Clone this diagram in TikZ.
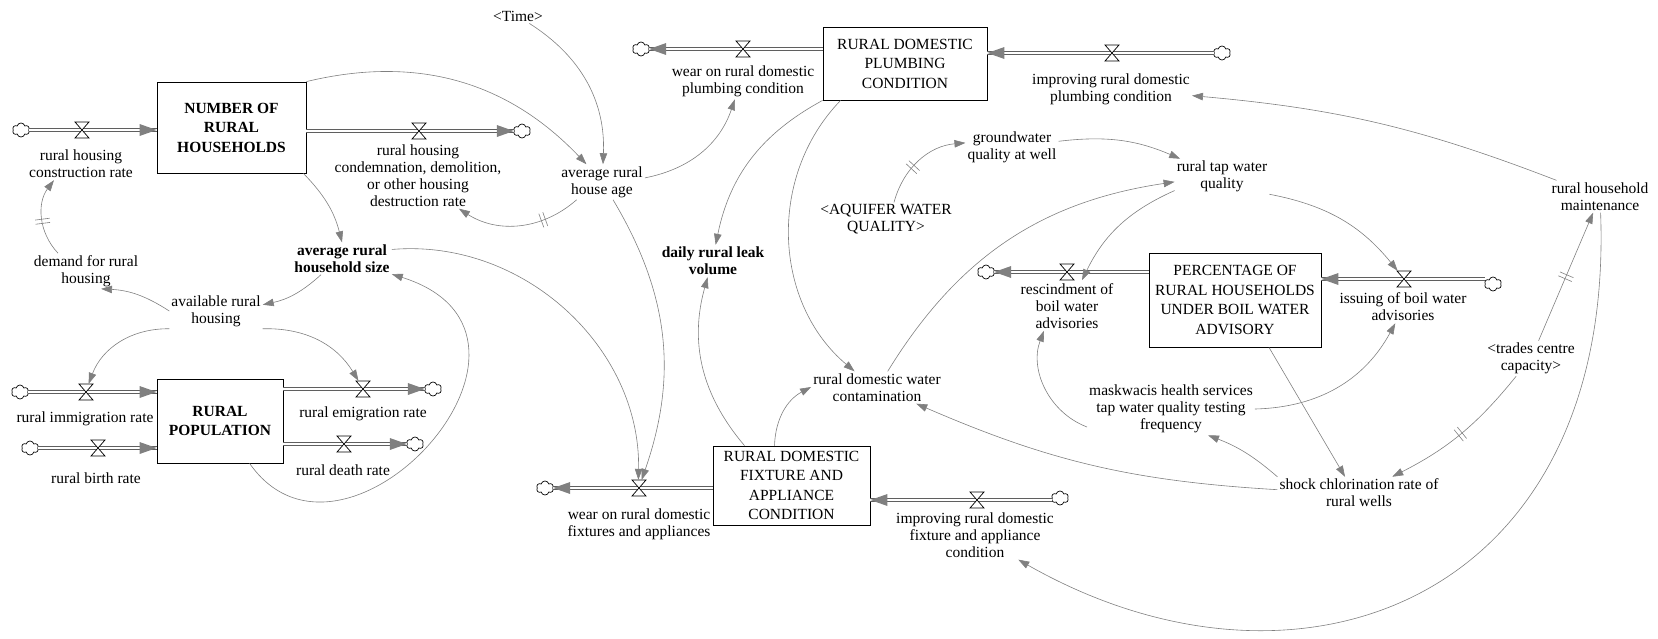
\documentclass[tikz,border=0pt]{standalone}
\usepackage{fontspec}
\setmainfont{Liberation Serif}
\usetikzlibrary{arrows.meta,shapes.symbols}

\definecolor{linkgray}{RGB}{128,128,128}
\definecolor{pipegray}{RGB}{95,95,95}

\tikzset{
  every node/.style={font=\fontsize{15.5}{17}\selectfont},
  stock/.style={draw, line width=.8pt, align=center, inner sep=2pt,
    font=\fontsize{15.5}{19.5}\selectfont},
  heavy stock/.style={stock, font=\fontsize{15.5}{19.5}\selectfont\bfseries},
  aux/.style={align=center, inner sep=2pt},
  heavy aux/.style={aux, font=\fontsize{15.5}{17}\selectfont\bfseries},
  valve/.style={minimum width=14pt, minimum height=16pt, inner sep=0pt},
  sink/.style={cloud, cloud puffs=6, cloud puff arc=150, aspect=1.25, draw,
    line width=.7pt, fill=white, inner sep=0pt, minimum width=17pt, minimum height=14pt},
  pipe/.style={draw=pipegray, line width=.8pt, double=white, double distance=2.4pt},
  link/.style={draw=linkgray, line width=.6pt, -{Triangle[length=11pt,width=7.5pt]}},
  delay/.style={sloped, inner sep=0pt, minimum width=3.6pt, minimum height=14pt},
  pics/hourglass/.style={code={
    \draw[line width=.7pt, fill=white] (-7,8) -- (7,8) -- (-7,-8) -- (7,-8) -- cycle;}},
}

\begin{document}
\begin{tikzpicture}[x=1pt,y=1pt]
  \useasboundingbox (0,0) rectangle (1658,-638);

  % stocks
  \node[heavy stock, minimum width=149pt, minimum height=91pt] (nrh) at (231.5,-127.5) {NUMBER OF\\RURAL\\HOUSEHOLDS};
  \node[heavy stock, minimum width=126pt, minimum height=84pt] (rp) at (220,-421) {RURAL\\POPULATION};
  \node[stock, minimum width=164pt, minimum height=73pt] (plumb) at (905,-63.5) {RURAL DOMESTIC\\PLUMBING\\CONDITION};
  \node[stock, minimum width=157pt, minimum height=79pt] (fixt) at (791.5,-485.5) {RURAL DOMESTIC\\FIXTURE AND\\APPLIANCE\\CONDITION};
  \node[stock, minimum width=172pt, minimum height=94pt] (pct) at (1235,-300) {PERCENTAGE OF\\RURAL HOUSEHOLDS\\UNDER BOIL WATER\\ADVISORY};

  % valves (the hourglasses are drawn later, on top of the pipes)
  \foreach \n/\x/\y in {vHcr/82/130, vDes/419/131, vImm/86/392, vBirth/98/448,
      vEmig/363/389, vDeath/344/444, vWearp/743/49, vImpp/1112/53,
      vResc/1067/272, vIssu/1404/279, vWearf/639/488, vImpf/977/500}
    \node[valve] (\n) at (\x,-\y) {};

  % sources and sinks
  \foreach \n/\x/\y in {cHcr/21/130, cDes/522/131, cImm/20/392, cBirth/30/448,
      cEmig/433/389, cDeath/415/444, cWearp/641/49, cImpp/1222/53,
      cResc/986/272, cIssu/1493/284, cWearf/545/488, cImpf/1060/498}
    \node[sink] (\n) at (\x,-\y) {};

  % pipes
  \draw[pipe] (cHcr.east |- vHcr) -- (nrh.west |- vHcr);
  \draw[pipe] (nrh.east |- vDes) -- (cDes.west |- vDes);
  \draw[pipe] (cImm.east |- vImm) -- (rp.west |- vImm);
  \draw[pipe] (cBirth.east |- vBirth) -- (rp.west |- vBirth);
  \draw[pipe] (rp.east |- vEmig) -- (cEmig.west |- vEmig);
  \draw[pipe] (rp.east |- vDeath) -- (cDeath.west |- vDeath);
  \draw[pipe] (plumb.west |- vWearp) -- (cWearp.east |- vWearp);
  \draw[pipe] (cImpp.west |- vImpp) -- (plumb.east |- vImpp);
  \draw[pipe] (pct.west |- vResc) -- (cResc.east |- vResc);
  \draw[pipe] (cIssu.west |- vIssu) -- (pct.east |- vIssu);
  \draw[pipe] (fixt.west |- vWearf) -- (cWearf.east |- vWearf);
  \draw[pipe] (cImpf.west |- vImpf) -- (fixt.east |- vImpf);

  % pipe heads
  \fill[linkgray] (nrh.west |- vHcr) -- ++(-17,6) -- ++(0,-12) -- cycle;
  \fill[linkgray] (cDes.west |- vDes) -- ++(-17,6) -- ++(0,-12) -- cycle;
  \fill[linkgray] (rp.west |- vImm) -- ++(-17,6) -- ++(0,-12) -- cycle;
  \fill[linkgray] (rp.west |- vBirth) -- ++(-17,6) -- ++(0,-12) -- cycle;
  \fill[linkgray] (cEmig.west |- vEmig) -- ++(-17,6) -- ++(0,-12) -- cycle;
  \fill[linkgray] (cDeath.west |- vDeath) -- ++(-17,6) -- ++(0,-12) -- cycle;
  \fill[linkgray] (cWearp.east |- vWearp) -- ++(17,6) -- ++(0,-12) -- cycle;
  \fill[linkgray] (plumb.east |- vImpp) -- ++(17,6) -- ++(0,-12) -- cycle;
  \fill[linkgray] (cResc.east |- vResc) -- ++(17,6) -- ++(0,-12) -- cycle;
  \fill[linkgray] (pct.east |- vIssu) -- ++(17,6) -- ++(0,-12) -- cycle;
  \fill[linkgray] (cWearf.east |- vWearf) -- ++(17,6) -- ++(0,-12) -- cycle;
  \fill[linkgray] (fixt.east |- vImpf) -- ++(17,6) -- ++(0,-12) -- cycle;

  \foreach \v in {vHcr,vDes,vImm,vBirth,vEmig,vDeath,vWearp,vImpp,vResc,vIssu,vWearf,vImpf}
    \pic at (\v) {hourglass};

  % flow names
  \node[aux] (hcrL) at (81,-164) {rural housing\\construction rate};
  \node[aux] (desL) at (418,-175.5) {rural housing\\condemnation, demolition,\\or other housing\\destruction rate};
  \node[aux] (immL) at (85,-419) {rural immigration rate};
  \node[aux] (birthL) at (96,-478) {rural birth rate};
  \node[aux] (emigL) at (363,-414) {rural emigration rate};
  \node[aux] (deathL) at (343,-470) {rural death rate};
  \node[aux] (wearpL) at (743,-81.5) {wear on rural domestic\\plumbing condition};
  \node[aux] (imppL) at (1111,-89.5) {improving rural domestic\\plumbing condition};
  \node[aux] (rescL) at (1067,-306) {rescindment of\\boil water\\advisories};
  \node[aux] (issuL) at (1403,-307) {issuing of boil water\\advisories};
  \node[aux] (wearfL) at (639,-524.5) {wear on rural domestic\\fixtures and appliances};
  \node[aux] (impfL) at (975,-535) {improving rural domestic\\fixture and appliance\\condition};

  % auxiliaries
  \node[aux] (demand) at (86,-271) {demand for rural\\housing};
  \node[heavy aux] (ahs) at (342,-258.5) {average rural\\household size};
  \node[aux] (avail) at (216,-311) {available rural\\housing};
  \node[aux] (time) at (518,-16) {<Time>};
  \node[aux] (age) at (602,-182) {average rural\\house age};
  \node[aux] (gw) at (1012,-147) {groundwater\\quality at well};
  \node[aux] (aq) at (886,-219.5) {<AQUIFER WATER\\QUALITY>};
  \node[heavy aux] (leak) at (713,-261) {daily rural leak\\volume};
  \node[aux] (tap) at (1222,-176.5) {rural tap water\\quality};
  \node[aux] (maint) at (1600,-196.5) {rural household\\maintenance};
  \node[aux] (trades) at (1531,-358.5) {<trades centre\\capacity>};
  \node[aux] (contam) at (877,-387.5) {rural domestic water\\contamination};
  \node[aux] (mask) at (1171,-409) {maskwacis health services\\tap water quality testing\\frequency};
  \node[aux] (shock) at (1359,-493) {shock chlorination rate of\\rural wells};

  % causal links
  \draw[link] ([xshift=-3pt]nrh.south east) to[bend left=15] (ahs.north);
  \draw[link] (nrh.north east) to[bend left=30] (age);
  \draw[link] (time) to[bend left=30] (age);
  \draw[link] (age) to[bend right=30] (wearpL);
  \draw[link] (age) to[bend left=37] node[delay, pos=.3] (dAge) {} (desL);
  \draw[link] (age) to[bend left=25] (vWearf);
  \draw[link] (ahs) to[bend left=48] (vWearf);
  \draw[link] (ahs) to[bend left=15] (avail);
  \draw[link] (avail.west) to[bend right=15] ([xshift=15pt]demand.south);
  \draw[link] ([xshift=-28pt]demand.north) to[bend left=40] node[delay, pos=.45] (dDem) {} ([xshift=-27pt]hcrL.south);
  \draw[link] (avail.south west) to[bend right=35] (vImm);
  \draw[link] (avail.south east) to[bend left=30] (vEmig);
  \draw[link] (rp) .. controls (345,-600) and (585,-335) .. (ahs);
  \draw[link] (plumb.south west) to[bend right=25] (leak);
  \draw[link] ([xshift=18pt]plumb.south west) to[bend right=47] (contam);
  \draw[link] (aq) to[bend left=35] node[delay, pos=.4] (dAq) {} (gw);
  \draw[link] (gw) to[bend left=15] (tap);
  \draw[link] (contam) to[bend left=25] (tap);
  \draw[link] (tap) to[bend right=20] ([xshift=15pt]vResc.south);
  \draw[link] (tap.south east) to[bend left=20] (vIssu);
  \draw[link] (maint) to[bend right=8] (imppL);
  \draw[link] (trades) -- node[delay, pos=.5] (dTr) {} (maint);
  \draw[link] (maint) .. controls (1615,-600) and (1300,-720) .. (impfL);
  \draw[link] (trades) to[bend left=12] node[delay, pos=.5] (dSh) {} (shock);
  \draw[link] ([xshift=34pt]pct.south) -- ([xshift=-14pt]shock.north);
  \draw[link] (shock.north west) to[bend right=10] ([xshift=37pt]mask.south);
  \draw[link] (mask.east) to[bend right=30] (issuL);
  \draw[link] ([yshift=-18pt]mask.west) to[bend left=45] ([xshift=-23pt]rescL.south);
  \draw[link] (shock) to[bend left=10] (contam);
  \draw[link] ([xshift=-47pt]fixt.north) to[bend left=28] (leak);
  \draw[link] ([xshift=-17pt]fixt.north) to[bend left=30] (contam);

  % delay marks
  \foreach \d in {dAge,dDem,dAq,dTr,dSh}
    \draw[linkgray, line width=.6pt] (\d.north west) -- (\d.south west) (\d.north east) -- (\d.south east);
\end{tikzpicture}
\end{document}
